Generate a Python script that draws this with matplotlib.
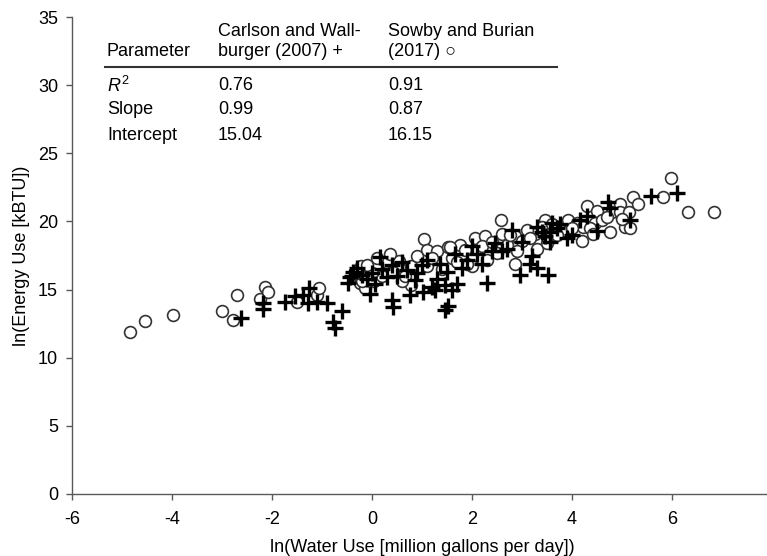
import numpy as np
import matplotlib
matplotlib.use('Agg')
import matplotlib.pyplot as plt
from matplotlib.lines import Line2D

plt.rcParams['font.family'] = ['Liberation Sans', 'DejaVu Sans']
plt.rcParams['mathtext.fontset'] = 'custom'
plt.rcParams['mathtext.rm'] = 'Liberation Sans'
plt.rcParams['mathtext.it'] = 'Liberation Sans:italic'
plt.rcParams['axes.unicode_minus'] = False

# Sowby and Burian (2017), open circles
sowby_x = [-4.84, -4.54, -3.98, -3.0, -2.78, -2.7, -2.24, -2.14, -2.08, -1.5,
           -1.1, -1.06, -0.24, -0.14, -0.22, -0.2, 0.04, 0.28, 0.54, 0.5,
           0.42, 0.78, 0.78, 0.2, 1.04, 1.1, 1.3, 1.52, 1.1, 1.2,
           0.9, 0.0, -0.1, 1.6, 1.76, 1.56, 2.06, 2.26, 2.0, 1.9,
           2.58, 2.6, 2.86, 3.26, 2.5, 2.86, 2.2, 2.4, 2.7, 3.0,
           3.1, 3.46, 3.4, 3.6, 3.92, 4.1, 4.22, 4.3, 4.5, 4.45,
           4.6, 4.36, 4.76, 4.2, 4.42, 4.8, 4.96, 4.96, 5.14, 5.22,
           5.32, 5.06, 5.16, 5.98, 5.82, 6.32, 6.84, 3.8, 3.3, 3.5,
           2.9, 1.4, 0.6, 1.7, 2.3, 3.7, 4.0, 4.7, 5.0, 0.35,
           0.65, 1.85, 2.75, 3.15, 0.1, -0.3]
sowby_y = [11.9, 12.7, 13.1, 13.4, 12.8, 14.6, 14.3, 15.2, 14.8, 14.1,
           14.6, 15.1, 15.5, 15.1, 16.7, 15.6, 15.6, 17.0, 17.1, 16.6,
           16.3, 16.7, 15.3, 16.0, 18.7, 17.9, 17.8, 18.1, 16.7, 17.3,
           17.5, 16.2, 16.8, 17.3, 18.3, 18.1, 18.8, 18.9, 16.7, 16.9,
           20.1, 19.1, 18.9, 19.1, 17.7, 16.9, 18.2, 18.5, 18.3, 18.6,
           19.4, 20.1, 19.6, 19.8, 20.1, 19.9, 19.6, 21.1, 20.8, 19.9,
           20.1, 19.5, 19.2, 18.6, 19.1, 20.7, 21.3, 20.7, 20.7, 21.8,
           21.3, 19.6, 19.5, 23.2, 21.8, 20.7, 20.7, 19.3, 18.0, 18.4,
           17.8, 16.5, 15.6, 17.0, 17.2, 19.0, 19.5, 20.3, 20.2, 17.6,
           16.0, 17.9, 19.0, 18.8, 17.3, 16.2]

# Carlson and Wallburger (2007), plus signs
carlson_x = [-2.62, -2.18, -2.18, -1.74, -1.54, -1.38, -1.26, -1.28, -1.1, -0.9,
             -0.6, -0.78, -0.74, -0.44, -0.48, -0.4, -0.38, -0.04, 0.4, 0.42,
             0.76, 1.02, 1.26, 1.46, 1.5, 1.46, 1.52, 1.3, 1.2, 1.6,
             1.7, 2.3, 2.96, 3.16, 3.3, 3.52, 3.56, 2.8, 3.0, 2.6,
             0.0, 0.2, 0.4, 0.6, 0.7, 0.9, 1.0, -0.2, -0.1, 0.3,
             1.9, 2.1, 2.4, 3.4, 3.6, 3.56, 4.0, 4.16, 4.72, 4.75,
             5.16, 5.58, 6.1, 3.7, 3.3, 2.2, 1.8, 3.9, 4.5, 2.7,
             1.1, 0.15, -0.3, 2.0, 3.2, 3.45, 0.5, 0.85, 1.35, 2.45,
             3.75, 4.3, 0.05, 1.65]
carlson_y = [12.9, 14.0, 13.6, 14.1, 14.5, 14.6, 15.1, 14.0, 14.1, 14.0,
             13.4, 12.6, 12.2, 15.9, 15.5, 16.0, 16.3, 14.7, 14.2, 13.7,
             14.6, 14.8, 15.0, 13.5, 16.3, 15.3, 13.8, 15.8, 15.2, 15.0,
             15.4, 15.5, 16.1, 16.9, 16.6, 16.1, 18.5, 19.4, 18.5, 17.8,
             16.2, 16.5, 16.8, 17.0, 16.4, 16.2, 16.8, 16.1, 15.8, 15.9,
             17.2, 17.6, 17.8, 19.2, 19.9, 19.2, 19.0, 20.1, 21.4, 21.0,
             20.1, 21.9, 22.1, 19.5, 19.6, 16.9, 16.6, 18.8, 19.3, 18.0,
             17.2, 17.4, 16.6, 18.2, 17.5, 18.9, 16.0, 15.7, 16.9, 18.4,
             19.8, 20.4, 15.4, 17.6]

params = ['Parameter', r'$\mathit{R}^2$', 'Slope', 'Intercept']
carlson_stats = ['0.76', '0.99', '15.04']
sowby_stats = ['0.91', '0.87', '16.15']

W, H = 767, 556
fig = plt.figure(figsize=(W / 100, H / 100), dpi=100)
ax = fig.add_axes([72 / W, (H - 494) / H, 700 / W, 477 / H])

ax.plot(sowby_x, sowby_y, 'o', mfc='white', mec='#333333', ms=8.5, mew=1.2, zorder=2)
ax.plot(carlson_x, carlson_y, '+', color='black', ms=11, mew=2.4, zorder=3)

ax.set_xlim(-6, 8)
ax.set_ylim(0, 35)
ax.set_xticks(np.arange(-6, 9, 2))
ax.set_yticks(np.arange(0, 36, 5))
for s in ['top', 'right']:
    ax.spines[s].set_visible(False)
for s in ['left', 'bottom']:
    ax.spines[s].set_color('#595959')
    ax.spines[s].set_linewidth(1.0)
ax.tick_params(direction='out', length=4, width=1, color='#595959', labelsize=13)
ax.tick_params(axis='x', pad=8)
ax.tick_params(axis='y', pad=6)
ax.set_xlabel('ln(Water Use [million gallons per day])', fontsize=13, labelpad=8)
ax.set_ylabel('ln(Energy Use [kBTU])', fontsize=13, labelpad=6)

def px(x, y):
    return x / W, 1 - y / H

fs = 13
fig.text(*px(218, 31), 'Carlson and Wall-', fontsize=fs, va='center')
fig.text(*px(218, 51), 'burger (2007) +', fontsize=fs, va='center')
fig.text(*px(388, 31), 'Sowby and Burian', fontsize=fs, va='center')
fig.text(*px(388, 51), '(2017) \u25cb', fontsize=fs, va='center')
rows_y = [51, 86, 109, 136]
for i, p in enumerate(params):
    fig.text(*px(107, rows_y[i]), p, fontsize=fs, va='center')
for i in range(3):
    fig.text(*px(218, rows_y[i + 1]), carlson_stats[i], fontsize=fs, va='center')
    fig.text(*px(388, rows_y[i + 1]), sowby_stats[i], fontsize=fs, va='center')
x0, y0 = px(105, 67)
x1, _ = px(557, 67)
fig.add_artist(Line2D([x0, x1], [y0, y0], color='#333333', lw=1.5, transform=fig.transFigure))

fig.savefig('out.png', dpi=100)
